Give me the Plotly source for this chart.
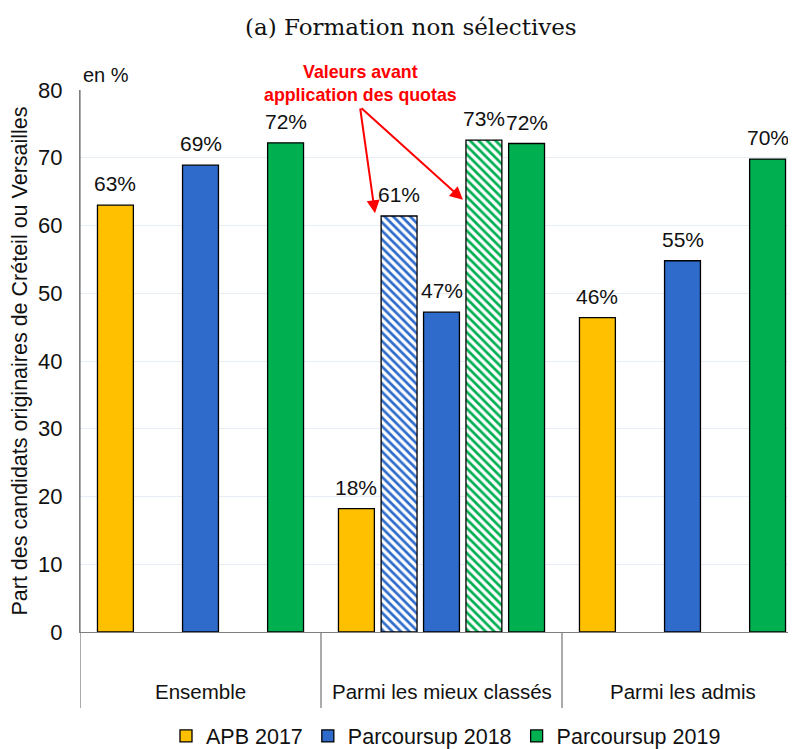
import plotly.graph_objects as go

# ---- data ----
categories = ["Ensemble", "Parmi les mieux classés", "Parmi les admis"]
apb_2017 = [63.0, 18.2, 46.4]
parcoursup_2018 = [68.9, 47.2, 54.8]
parcoursup_2019 = [72.2, 72.1, 69.8]
# values before quotas (only for "Parmi les mieux classés")
avant_quotas_2018 = [61.4]
avant_quotas_2019 = [72.6]
avant_quotas_category = ["Parmi les mieux classés"]

y_ticks = [0, 10, 20, 30, 40, 50, 60, 70, 80]

# ---- styling / layout ----
col_yellow = "#FFC000"
col_blue = "#2E6BCA"
col_green = "#00B050"
TXT = "#111111"
SANS = "Liberation Sans, Arial"

# page body has an 8px margin: work in page pixels, convert to figure pixels
OFF = 8
FIG_W, FIG_H = 796 - OFF, 749 - OFF
PLOT_TOP, PLOT_BOT, PLOT_L = 90 - OFF, 632 - OFF, 80 - OFF
plot_h = PLOT_BOT - PLOT_TOP
plot_w = FIG_W - PLOT_L
GROUP_PX = 241.0

grp = {c: i + 0.5 for i, c in enumerate(categories)}
off_outer = 0.353
off_inner = 0.176
bw = 0.149


def py(page_px):
    """page pixel row -> paper y"""
    return (PLOT_BOT - (page_px - OFF)) / plot_h


def px(page_px):
    """page pixel column -> paper x"""
    return ((page_px - OFF) - PLOT_L) / plot_w


fig = go.Figure()
label_annotations = []


def add_bar(name, cats, vals, offset, color, pattern=False, showlegend=True):
    marker = dict(color=color, line=dict(color="black", width=1.3))
    if pattern:
        marker = dict(color="white", line=dict(color="black", width=1.3),
                      pattern=dict(shape="\\", fgcolor=color, bgcolor="white",
                                   size=6, solidity=0.45, fillmode="replace"))
    xs = [grp[c] + offset for c in cats]
    fig.add_trace(go.Bar(
        name=name, x=xs, y=vals, width=bw, marker=marker,
        showlegend=showlegend, hoverinfo="y",
    ))
    for xv, v in zip(xs, vals):
        label_annotations.append(dict(
            x=xv, y=v, xref="x", yref="y", text=f"{v:.0f}%", showarrow=False,
            yanchor="bottom", yshift=8,
            font=dict(family=SANS, size=21, color=TXT)))


add_bar("APB 2017", categories, apb_2017, -off_outer, col_yellow)
add_bar("Parcoursup 2018", categories, parcoursup_2018, 0.0, col_blue)
add_bar("Parcoursup 2019", categories, parcoursup_2019, off_outer, col_green)
add_bar("Parcoursup 2018 (avant quotas)", avant_quotas_category, avant_quotas_2018,
        -off_inner, col_blue, pattern=True, showlegend=False)
add_bar("Parcoursup 2019 (avant quotas)", avant_quotas_category, avant_quotas_2019,
        off_inner, col_green, pattern=True, showlegend=False)

xmax = plot_w / GROUP_PX

shapes = []
for xv in [0, 1, 2, 3]:
    shapes.append(dict(type="line", xref="x", yref="paper", x0=xv, x1=xv,
                       y0=py(708), y1=1 if xv == 0 else 0,
                       line=dict(color="#7f7f7f", width=1.3)))

fig.update_layout(
    width=FIG_W, height=FIG_H,
    margin=dict(l=PLOT_L, r=0, t=PLOT_TOP, b=FIG_H - PLOT_BOT, autoexpand=False),
    paper_bgcolor="white", plot_bgcolor="white",
    barmode="overlay",
    xaxis=dict(range=[0, xmax], showticklabels=False, ticks="", showgrid=False,
               zeroline=False, showline=True, linecolor="#7f7f7f", linewidth=1.3,
               automargin=False, fixedrange=True),
    yaxis=dict(range=[0, 80], tickvals=y_ticks, showgrid=True, gridcolor="#E6EDF4",
               gridwidth=1, zeroline=False, showline=True, linecolor="#7f7f7f",
               linewidth=1.3, ticks="outside", ticklen=12, tickcolor="rgba(0,0,0,0)",
               tickfont=dict(family=SANS, size=22, color=TXT), automargin=False,
               title=dict(text="Part des candidats originaires de Créteil ou Versailles",
                          font=dict(family=SANS, size=21.5, color=TXT),
                          standoff=14)),
    legend=dict(orientation="h", x=px(446), xanchor="center", y=py(736), yanchor="middle",
                font=dict(family=SANS, size=21.5, color=TXT),
                itemwidth=30, tracegroupgap=0, traceorder="normal"),
    shapes=shapes,
    annotations=label_annotations,
    font=dict(family=SANS),
)

# group labels
for c in categories:
    fig.add_annotation(x=grp[c], y=py(691), xref="x", yref="paper", yanchor="middle",
                       text=c, showarrow=False,
                       font=dict(family=SANS, size=20.5, color=TXT))

# title
fig.add_annotation(x=px(411), y=py(27), xref="paper", yref="paper",
                   xanchor="center", yanchor="middle",
                   text="(a) Formation non sélectives", showarrow=False,
                   font=dict(family="DejaVu Serif", size=23, color=TXT))

# "en %"
fig.add_annotation(x=0, y=py(75), xref="paper", yref="paper", xanchor="left", yanchor="middle",
                   text="en %", showarrow=False, xshift=1,
                   font=dict(family=SANS, size=20, color=TXT))

# red note + arrows
note_px = 360
fig.add_annotation(x=px(note_px), y=py(84), xref="paper", yref="paper",
                   text="<b>Valeurs avant<br>application des quotas</b>",
                   showarrow=False, xanchor="center", yanchor="middle", align="center",
                   font=dict(family=SANS, size=17.8, color="#FF0000"))
tail_x = (note_px - 80) / GROUP_PX
tail_y = (632 - 107) / 542 * 80
for cat, vals, off, dy, dx in [(avant_quotas_category[0], avant_quotas_2018, -off_inner, 0.4, -0.10),
                               (avant_quotas_category[0], avant_quotas_2019, off_inner, -8.8, -0.087)]:
    fig.add_annotation(x=grp[cat] + off + dx, y=vals[0] + dy,
                       ax=tail_x, ay=tail_y, xref="x", yref="y", axref="x", ayref="y",
                       text="", showarrow=True, arrowhead=2, arrowsize=1.3, arrowwidth=2,
                       arrowcolor="#FF0000")

fig.write_html("out.html")
